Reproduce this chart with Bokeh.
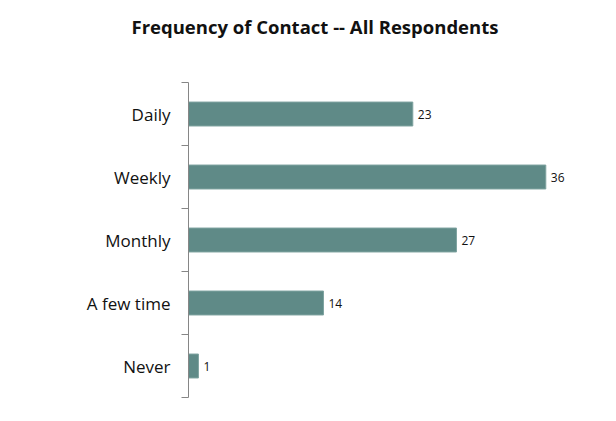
from bokeh.plotting import figure
from bokeh.models import ColumnDataSource, Range1d, FixedTicker
from bokeh.core.properties import value
from bokeh.embed import file_html
from bokeh.resources import INLINE

categories = ["Daily", "Weekly", "Monthly", "A few time", "Never"]
values = [22.6, 36.0, 27.0, 13.6, 1.0]
title_text = "Frequency of Contact -- All Respondents"

n = len(categories)
ys = [n - i - 0.5 for i in range(n)]
labels = [f"{v:.0f}" for v in values]

src = ColumnDataSource(dict(y=ys, value=values, label=labels, cat=categories))

# frame extends above the category area; the axis line is bounded to the categories
p = figure(width=608, height=413, output_backend="svg", toolbar_location=None,
           x_range=Range1d(0, 40), y_range=Range1d(0, n + 0.667),
           min_border_left=188, min_border_right=23, min_border_top=40,
           min_border_bottom=16, title=title_text)

p.title.text_font = "Open Sans"
p.title.text_font_size = "18.5px"
p.title.text_font_style = "bold"
p.title.text_color = "#111111"
p.title.align = "left"
p.title.offset = -57
p.title.standoff = 4
p.title.vertical_align = "bottom"

p.hbar(y="y", left=0, right="value", height=0.38, source=src,
       fill_color="#5f8a87", line_color="#7fa3a0", line_width=1)
p.text(x="value", y="y", text="label", source=src, x_offset=5,
       text_baseline="middle", text_align="left",
       text_font=value("Open Sans"), text_font_size="12px", text_color="#111111")

p.xaxis.visible = False
p.xgrid.visible = False
p.ygrid.visible = False
p.outline_line_color = None

ax = p.yaxis[0]
ax.bounds = (0, n)
ax.ticker = FixedTicker(ticks=ys, minor_ticks=list(range(n + 1)))
ax.major_label_overrides = {y: c for y, c in zip(ys, categories)}
ax.major_tick_line_color = None
ax.major_tick_out = 7
ax.major_tick_in = 0
ax.minor_tick_line_color = "#868686"
ax.minor_tick_out = 7
ax.minor_tick_in = 0
ax.axis_line_color = "#868686"
ax.major_label_standoff = 11
ax.major_label_text_font = "Open Sans"
ax.major_label_text_font_size = "17px"
ax.major_label_text_color = "#111111"

open("out.html", "w").write(file_html(p, INLINE))
